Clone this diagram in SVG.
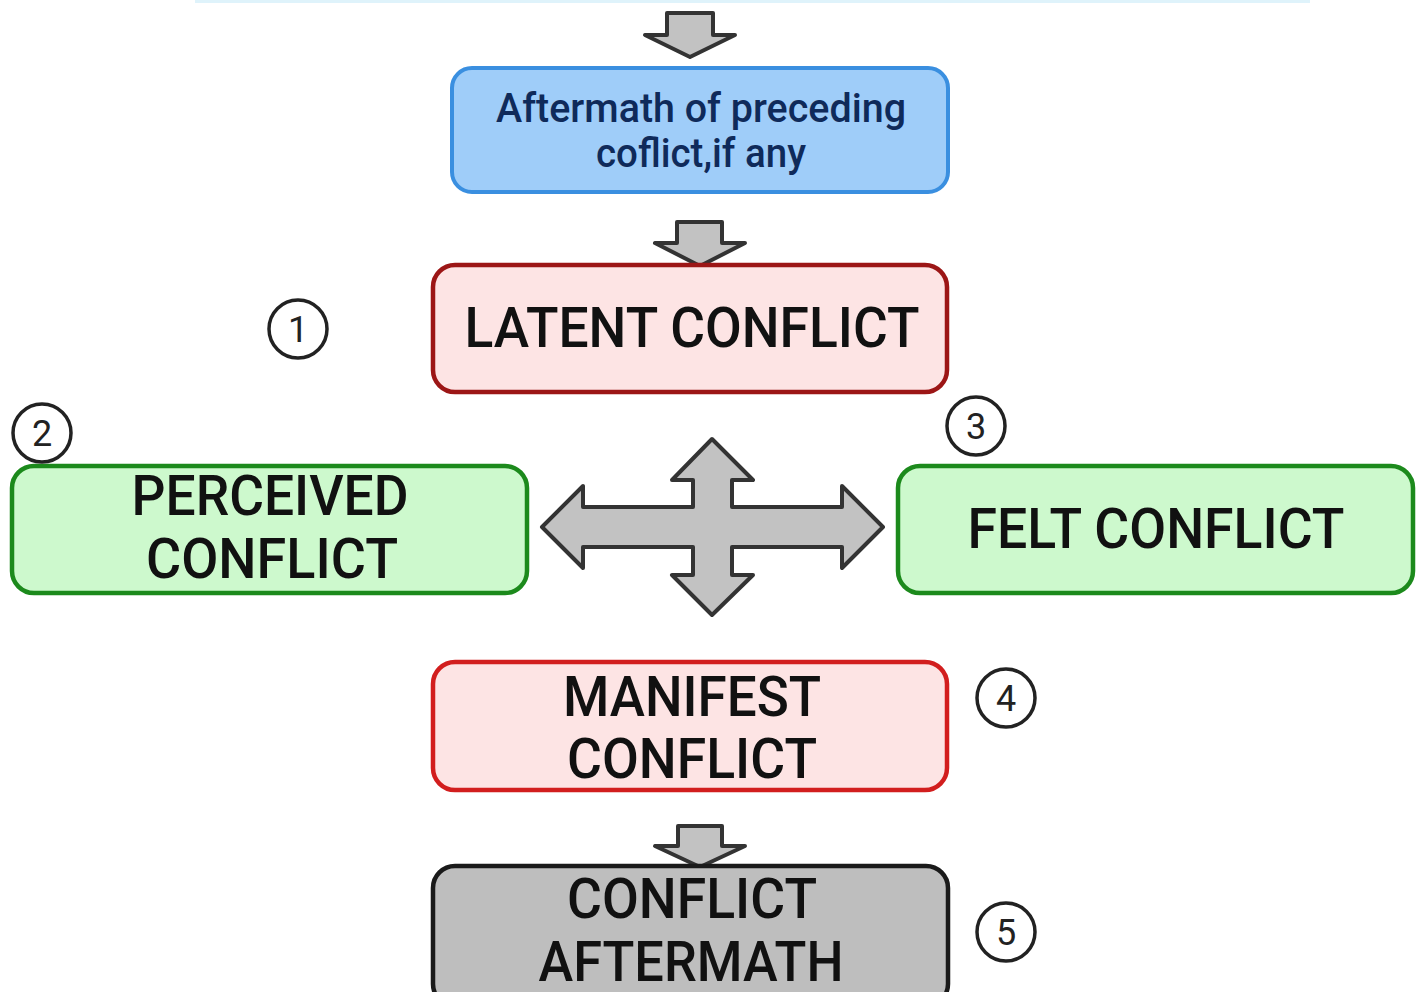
<svg xmlns="http://www.w3.org/2000/svg" width="1417" height="992" viewBox="0 0 1417 992">
<defs>
<style>
.arr{fill:#c2c2c2;stroke:#333;stroke-width:4;stroke-linejoin:round}
.big{font-family:Roboto,"Liberation Sans",sans-serif;font-size:56px;font-weight:500;fill:#111;text-anchor:middle}
.blue{font-family:Roboto,"Liberation Sans",sans-serif;font-size:40px;font-weight:500;fill:#0f2a5a;text-anchor:middle}
.num{font-family:Roboto,"Liberation Sans",sans-serif;font-size:36px;fill:#222;text-anchor:middle}
.circ{fill:#fff;stroke:#222;stroke-width:3.5}
</style>
</defs>
<rect width="1417" height="992" fill="#fff"/>
<rect x="195" y="0" width="1115" height="3" fill="#dff3fb"/>
<g id="connectors">
<path class="arr" d="M667,13 H713 V35 H735 L690,57 L645,35 H667 Z"/>
<path class="arr" d="M677,222 H722 V243 H745 L700,266 L655,243 H677 Z"/>
<path class="arr" d="M678,826 H722 V846 H745 L700,867 L655,846 H678 Z"/>
<path class="arr" d="M712,439 L753,480 H732 V507 H842 V486 L883,527 L842,568 V547 H732 V575 H753 L712,615 L672,575 H693 V547 H583 V568 L542,527 L583,486 V507 H693 V480 H672 Z"/>
</g>
<g id="node-aftermath-preceding">
<rect x="452" y="68" width="496" height="124" rx="20" fill="#9fcdf9" stroke="#3a8fe0" stroke-width="4"/>
<text class="blue" x="701" y="122" textLength="410" lengthAdjust="spacingAndGlyphs">Aftermath of preceding</text>
<text class="blue" x="701" y="167" textLength="210" lengthAdjust="spacingAndGlyphs">coflict,if any</text>
</g>
<g id="node-latent">
<rect x="433" y="265" width="514" height="127" rx="22" fill="#fde4e4" stroke="#9c1616" stroke-width="4.5"/>
<text class="big" x="692" y="347" textLength="455" lengthAdjust="spacingAndGlyphs">LATENT CONFLICT</text>
</g>
<g id="node-perceived">
<rect x="12" y="466" width="515" height="127" rx="22" fill="#cdf9cd" stroke="#1c8a1c" stroke-width="4.5"/>
<text class="big" x="270" y="515" textLength="277" lengthAdjust="spacingAndGlyphs">PERCEIVED</text>
<text class="big" x="272" y="578" textLength="252" lengthAdjust="spacingAndGlyphs">CONFLICT</text>
</g>
<g id="node-felt">
<rect x="898" y="466" width="515" height="127" rx="22" fill="#cdf9cd" stroke="#1c8a1c" stroke-width="4.5"/>
<text class="big" x="1156" y="548" textLength="377" lengthAdjust="spacingAndGlyphs">FELT CONFLICT</text>
</g>
<g id="node-manifest">
<rect x="433" y="662" width="514" height="128" rx="22" fill="#fde4e4" stroke="#d21e1e" stroke-width="4.5"/>
<text class="big" x="692" y="716" textLength="258" lengthAdjust="spacingAndGlyphs">MANIFEST</text>
<text class="big" x="692" y="778" textLength="250" lengthAdjust="spacingAndGlyphs">CONFLICT</text>
</g>
<g id="node-conflict-aftermath">
<rect x="433" y="866" width="515" height="140" rx="22" fill="#bebebe" stroke="#1a1a1a" stroke-width="4.5"/>
<text class="big" x="692" y="918" textLength="250" lengthAdjust="spacingAndGlyphs">CONFLICT</text>
<text class="big" x="691" y="981" textLength="305" lengthAdjust="spacingAndGlyphs">AFTERMATH</text>
</g>
<g id="badge-1"><circle class="circ" cx="298" cy="329" r="29"/><text class="num" x="298" y="342">1</text></g>
<g id="badge-2"><circle class="circ" cx="42" cy="433" r="29"/><text class="num" x="42" y="446">2</text></g>
<g id="badge-3"><circle class="circ" cx="976" cy="426" r="29"/><text class="num" x="976" y="439">3</text></g>
<g id="badge-4"><circle class="circ" cx="1006" cy="698" r="29"/><text class="num" x="1006" y="711">4</text></g>
<g id="badge-5"><circle class="circ" cx="1006" cy="932" r="29"/><text class="num" x="1006" y="945">5</text></g>
</svg>
